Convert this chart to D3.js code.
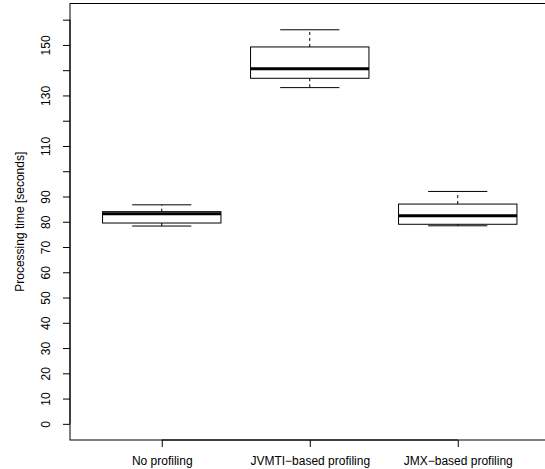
<!DOCTYPE html>
<html>
<head>
<meta charset="utf-8">
<script src="https://cdn.jsdelivr.net/npm/d3@7"></script>
<style>
  body { margin: 0; background: #fff; }
  text { font-family: "Liberation Sans", Arial, sans-serif; fill: #000; }
</style>
</head>
<body>
<div id="chart"></div>
<script>
// data
var groups = ["No profiling", "JVMTI\u2212based profiling", "JMX\u2212based profiling"];
var whiskerLow = [78.3, 133.1, 78.4];
var q1 = [79.5, 136.8, 79.0];
var median = [83.2, 140.6, 82.4];
var q3 = [84.0, 149.2, 87.0];
var whiskerHigh = [86.7, 156.0, 92.0];
var yTicks = d3.range(0, 161, 10);
var yLabels = [0, 10, 20, 30, 40, 50, 60, 70, 80, 90, 110, 130, 150];

var W = 545, H = 469;
var svg = d3.select("#chart").append("svg")
    .attr("width", W)
    .attr("height", H);

// R style plot region, x runs 0.38..3.62
var x = d3.scaleLinear().domain([0.38, 3.62]).range([70, 549.5]);
var y = d3.scaleLinear().domain([-6.4, 166.4]).range([440, 3.5]);

// boxes
var boxes = svg.selectAll("g.box")
    .data(groups)
    .enter().append("g")
    .attr("class", "box");

boxes.append("line") // upper whisker
    .attr("x1", function(d, i) { return x(i + 1); })
    .attr("x2", function(d, i) { return x(i + 1); })
    .attr("y1", function(d, i) { return y(q3[i]); })
    .attr("y2", function(d, i) { return y(whiskerHigh[i]); })
    .attr("stroke", "#000").attr("stroke-dasharray", "3,3");
boxes.append("line") // lower whisker
    .attr("x1", function(d, i) { return x(i + 1); })
    .attr("x2", function(d, i) { return x(i + 1); })
    .attr("y1", function(d, i) { return y(q1[i]); })
    .attr("y2", function(d, i) { return y(whiskerLow[i]); })
    .attr("stroke", "#000").attr("stroke-dasharray", "3,3");

[whiskerHigh, whiskerLow].forEach(function(arr) {
    boxes.append("line")
        .attr("x1", function(d, i) { return x(i + 1 - 0.2); })
        .attr("x2", function(d, i) { return x(i + 1 + 0.2); })
        .attr("y1", function(d, i) { return y(arr[i]); })
        .attr("y2", function(d, i) { return y(arr[i]); })
        .attr("stroke", "#000");
});

boxes.append("rect")
    .attr("x", function(d, i) { return x(i + 1 - 0.4); })
    .attr("width", function(d, i) { return x(i + 1 + 0.4) - x(i + 1 - 0.4); })
    .attr("y", function(d, i) { return y(q3[i]); })
    .attr("height", function(d, i) { return y(q1[i]) - y(q3[i]); })
    .attr("fill", "none")
    .attr("stroke", "#000");

boxes.append("line")
    .attr("x1", function(d, i) { return x(i + 1 - 0.4); })
    .attr("x2", function(d, i) { return x(i + 1 + 0.4); })
    .attr("y1", function(d, i) { return y(median[i]); })
    .attr("y2", function(d, i) { return y(median[i]); })
    .attr("stroke", "#000")
    .attr("stroke-width", 3);

// frame
svg.append("rect")
    .attr("x", x(0.38)).attr("y", y(166.4))
    .attr("width", x(3.62) - x(0.38))
    .attr("height", y(-6.4) - y(166.4))
    .attr("fill", "none").attr("stroke", "#000");

// Y axis
var yAxis = svg.append("g")
    .attr("transform", "translate(70,0)")
    .call(d3.axisLeft(y).tickValues(yTicks).tickSize(7).tickSizeOuter(0)
        .tickFormat(function(d) { return yLabels.indexOf(d) >= 0 ? d : ""; }));
yAxis.select(".domain").attr("d", "M0," + y(0) + "V" + y(160)).attr("stroke", "#000");
yAxis.selectAll(".tick line").attr("stroke", "#000");
yAxis.selectAll(".tick text")
    .attr("transform", "rotate(-90)")
    .attr("x", 0).attr("y", -24)
    .attr("dy", "0.35em")
    .attr("text-anchor", "middle")
    .style("font-size", "12px")
    .style("font-family", "Liberation Sans, Arial, sans-serif");

// X axis
var xAxis = svg.append("g")
    .attr("transform", "translate(0,440)")
    .call(d3.axisBottom(x).tickValues([1, 2, 3]).tickSize(7).tickSizeOuter(0)
        .tickFormat(function(d) { return groups[d - 1]; }));
xAxis.select(".domain").attr("d", "M" + x(1) + ",0H" + x(3)).attr("stroke", "#000");
xAxis.selectAll(".tick line").attr("stroke", "#000");
xAxis.selectAll(".tick text")
    .attr("y", 21)
    .attr("dy", "0.35em")
    .style("font-size", "12px")
    .style("font-family", "Liberation Sans, Arial, sans-serif");

// axis title
svg.append("text")
    .attr("transform", "translate(20," + ((3.5 + 440) / 2) + ") rotate(-90)")
    .attr("text-anchor", "middle")
    .attr("dy", "0.35em")
    .style("font-size", "12px")
    .text("Processing time [seconds]");
</script>
</body>
</html>
